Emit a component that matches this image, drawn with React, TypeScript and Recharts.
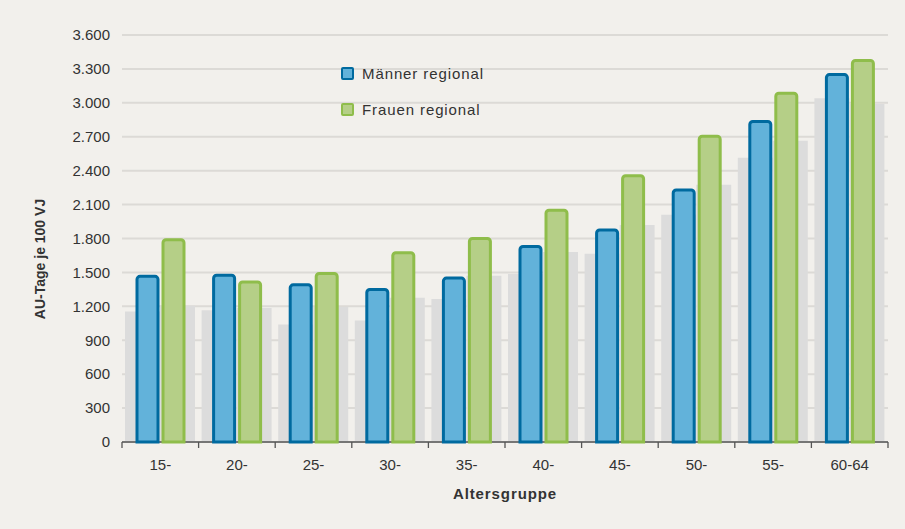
import { Bar, BarChart, CartesianGrid, Label, XAxis, YAxis } from "recharts";

const ageGroups = ["15-", "20-", "25-", "30-", "35-", "40-", "45-", "50-", "55-", "60-64"];
const menRegional = [1465, 1475, 1390, 1350, 1450, 1730, 1875, 2230, 2835, 3250];
const womenRegional = [1790, 1415, 1490, 1675, 1800, 2050, 2355, 2705, 3085, 3375];
const menReference = [1155, 1165, 1040, 1075, 1265, 1485, 1665, 2010, 2515, 3040];
const womenReference = [1205, 1185, 1195, 1275, 1470, 1680, 1920, 2275, 2665, 2990];
const yTicks = [0, 300, 600, 900, 1200, 1500, 1800, 2100, 2400, 2700, 3000, 3300, 3600];

const legendItems = [
  { label: "Männer regional", fill: "#62b2da", stroke: "#006a9f" },
  { label: "Frauen regional", fill: "#b5cf87", stroke: "#8fbd4b" },
];

const data = ageGroups.map((group, i) => ({
  group,
  men: menRegional[i],
  women: womenRegional[i],
  menRef: menReference[i],
  womenRef: womenReference[i],
}));

const W = 905;
const H = 529;
const BG = "#f2f0ec";
const FONT = "'Liberation Sans', Arial, sans-serif";
const margin = { top: 35, right: 17, left: 0, bottom: 0 };
const TICK_SIZE = 6;
const TICK_MARGIN = 11;

const formatDe = (v: number) => String(v).replace(/\B(?=(\d{3})+(?!\d))/g, ".");

function XTick(props: any) {
  const { x, y, payload, index, visibleTicksCount, width } = props;
  const half = payload?.offset || (width ? width / visibleTicksCount / 2 : 38.3);
  const axisY = y - TICK_SIZE - TICK_MARGIN;
  const last = index === visibleTicksCount - 1;
  return (
    <g>
      <line x1={x - half} x2={x - half} y1={axisY} y2={axisY + TICK_SIZE} stroke="#555" strokeWidth={1.3} />
      {last && (
        <line x1={x + half} x2={x + half} y1={axisY} y2={axisY + TICK_SIZE} stroke="#555" strokeWidth={1.3} />
      )}
      <text x={x} y={y} dy="0.71em" textAnchor="middle" fontSize={15} fill="#333" fontFamily={FONT}>
        {payload.value}
      </text>
    </g>
  );
}

function YTitle({ viewBox }: any) {
  const cx = viewBox.x + 40;
  const cy = 259;
  return (
    <text
      x={cx}
      y={cy}
      transform={`rotate(-90, ${cx}, ${cy})`}
      textAnchor="middle"
      dy="0.355em"
      fontSize={14}
      fontWeight="bold"
      fill="#333"
      fontFamily={FONT}
    >
      AU-Tage je 100 VJ
    </text>
  );
}

export default function App() {
  const layer: React.CSSProperties = { position: "absolute", left: 0, top: 0 };
  return (
    <div style={{ position: "absolute", left: 0, top: 0, width: W, height: H, background: BG, fontFamily: FONT }}>
      <div style={layer}>
        <BarChart width={W} height={H} data={data} margin={margin} barGap={0}>
          <CartesianGrid vertical={false} stroke="#dcdad6" strokeWidth={2} />
          <YAxis
            domain={[0, 3600]}
            ticks={yTicks}
            width={122}
            tickSize={0}
            tickMargin={12}
            axisLine={false}
            tickLine={false}
            tickFormatter={formatDe}
            tick={{ fontSize: 15, fill: "#333", fontFamily: FONT }}
            interval={0}
          >
            <Label content={<YTitle />} />
          </YAxis>
          <XAxis
            dataKey="group"
            height={87}
            axisLine={{ stroke: "#555", strokeWidth: 1.3 }}
            tickLine={false}
            tickSize={TICK_SIZE}
            tickMargin={TICK_MARGIN}
            tick={<XTick />}
            interval={0}
          >
            <Label
              value="Altersgruppe"
              position="insideBottom"
              offset={30}
              style={{ fontSize: 15, fontWeight: "bold", fill: "#333", letterSpacing: 0.9, fontFamily: FONT }}
            />
          </XAxis>
          <Bar dataKey="menRef" fill="#dcdcdc" barSize={35} isAnimationActive={false} />
          <Bar dataKey="womenRef" fill="#dcdcdc" barSize={35} isAnimationActive={false} />
        </BarChart>
      </div>
      <div style={{ ...layer, pointerEvents: "none" }}>
        <BarChart width={W} height={H} data={data} margin={margin} barGap={5}>
          <YAxis domain={[0, 3600]} ticks={yTicks} width={122} tick={false} axisLine={false} tickLine={false} />
          <XAxis dataKey="group" height={87} tick={false} axisLine={false} tickLine={false} />
          <Bar
            dataKey="men"
            fill={legendItems[0].fill}
            stroke={legendItems[0].stroke}
            strokeWidth={3}
            radius={[3, 3, 0, 0]}
            barSize={21}
            isAnimationActive={false}
          />
          <Bar
            dataKey="women"
            fill={legendItems[1].fill}
            stroke={legendItems[1].stroke}
            strokeWidth={3}
            radius={[3, 3, 0, 0]}
            barSize={21}
            isAnimationActive={false}
          />
        </BarChart>
      </div>
      {legendItems.map((item, i) => (
        <div
          key={item.label}
          style={{ position: "absolute", left: 341, top: 64 + i * 36.5, height: 18, display: "flex", alignItems: "center" }}
        >
          <span
            style={{
              width: 9,
              height: 9,
              background: item.fill,
              border: `2.5px solid ${item.stroke}`,
              borderRadius: 2,
              display: "inline-block",
            }}
          />
          <span style={{ marginLeft: 8, fontSize: 15, color: "#333", letterSpacing: 0.9 }}>{item.label}</span>
        </div>
      ))}
    </div>
  );
}
